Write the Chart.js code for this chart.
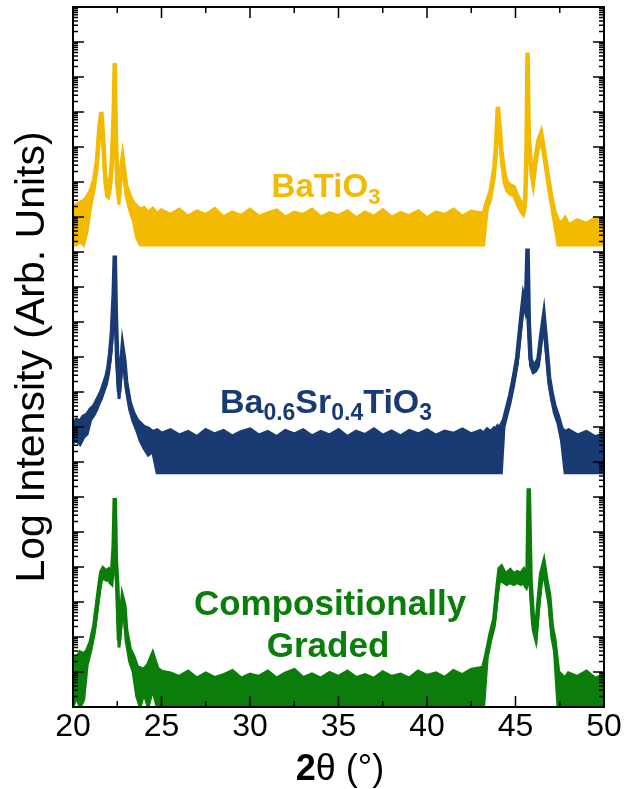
<!DOCTYPE html>
<html>
<head>
<meta charset="utf-8">
<script src="https://cdn.jsdelivr.net/npm/chart.js@4.4.0/dist/chart.umd.min.js"></script>
<style>
  body { margin: 0; background: #fff; }
  #xrd { display: block; }
</style>
</head>
<body>
<canvas id="xrd" width="632" height="789"></canvas>
<script>
// 2theta grid (deg) shared by all three scans
const angles = [
  20.0, 20.2, 20.4, 20.6, 20.8, 21.0, 21.2, 21.35, 21.5, 21.6, 21.7, 21.8, 21.9, 22.0, 22.1, 22.2, 22.3, 22.36, 22.42, 22.5,
  22.6, 22.7, 22.8, 22.9, 23.0, 23.2, 23.4, 23.6, 23.8, 24.0, 24.25, 24.5, 24.75, 25.0,
  25.5, 26.0, 26.5, 27.0, 27.5, 28.0, 28.5, 29.0, 29.5, 30.0, 30.5, 31.0, 31.5, 32.0, 32.5, 33.0, 33.5, 34.0,
  34.5, 35.0, 35.5, 36.0, 36.5, 37.0, 37.5, 38.0, 38.5, 39.0, 39.5, 40.0, 40.5, 41.0, 41.5, 42.0, 42.5, 43.0,
  43.2, 43.4, 43.6, 43.8, 43.9, 44.0, 44.1, 44.2, 44.35, 44.5, 44.7, 44.9, 45.1, 45.3, 45.45, 45.55, 45.62, 45.68,
  45.75, 45.85, 46.0, 46.15, 46.3, 46.45, 46.6, 46.75, 46.9, 47.05, 47.2, 47.4, 47.6, 47.8, 48.0, 48.5, 49.0, 49.5, 50.0
];

// log10 intensity (offset traces), upper edge and lower edge of the noisy band
const btoTop = [
  14.2, 14.35, 14.4, 14.45, 14.57, 14.75, 15.06, 15.6, 16.6, 17.0, 16.3, 15.3, 14.85, 14.8, 15.0, 15.6, 17.0, 18.4, 16.4, 15.0,
  14.6, 15.3, 15.68, 15.3, 14.9, 14.6, 14.4, 14.3, 14.2, 14.25, 14.1, 14.22, 14.08, 14.18,
  14.05, 14.2, 14.0, 14.15, 14.05, 14.22, 13.98, 14.12, 14.02, 14.2, 14.0, 14.1, 14.18, 13.97, 14.12, 14.05, 14.2, 13.98,
  14.1, 14.02, 14.15, 13.95, 14.12, 14.0, 14.18, 13.97, 14.1, 14.02, 14.15, 13.95, 14.12, 14.05, 14.2, 14.0, 14.15, 14.1,
  14.1, 14.45, 14.75, 15.4, 16.0, 17.15, 16.6, 15.9, 15.3, 15.0, 14.9, 14.85, 14.6, 14.4, 14.3, 14.5, 15.8, 18.7,
  16.3, 15.6, 15.1, 15.75, 16.2, 16.4, 15.95, 15.45, 14.95, 14.5, 14.15, 13.9, 13.8, 13.95, 13.75, 13.9, 13.8, 13.95, 13.85
];
const btoBottom = [
  13.2, 13.2, 13.3, 13.2, 13.6, 14.3, 14.8, 15.3, 16.3, 16.75, 16.0, 15.0, 14.6, 14.55, 14.75, 15.3, 16.7, 18.1, 16.1, 14.75,
  14.35, 15.05, 15.4, 15.0, 14.6, 14.2, 13.9, 13.4, 13.2, 13.2, 13.2, 13.2, 13.2, 13.2,
  13.2, 13.2, 13.2, 13.2, 13.2, 13.2, 13.2, 13.2, 13.2, 13.2, 13.2, 13.2, 13.2, 13.2, 13.2, 13.2, 13.2, 13.2,
  13.2, 13.2, 13.2, 13.2, 13.2, 13.2, 13.2, 13.2, 13.2, 13.2, 13.2, 13.2, 13.2, 13.2, 13.2, 13.2, 13.2, 13.2,
  13.2, 14.2, 14.5, 15.1, 15.7, 16.85, 16.3, 15.6, 15.0, 14.75, 14.65, 14.6, 14.35, 14.15, 14.05, 14.25, 15.5, 18.4,
  16.0, 15.3, 14.85, 15.5, 15.95, 16.15, 15.7, 15.2, 14.7, 14.25, 13.8, 13.2, 13.2, 13.2, 13.2, 13.2, 13.2, 13.2, 13.2
];

const bstTop = [
  8.1, 8.2, 8.15, 8.3, 8.35, 8.5, 8.6, 8.75, 8.9, 9.0, 9.15, 9.3, 9.45, 9.7, 10.1, 10.7, 11.8, 12.9, 11.2, 9.9,
  9.0, 9.6, 10.25, 9.9, 9.3, 8.7, 8.4, 8.2, 8.1, 8.0, 7.95, 7.85, 7.9, 7.8,
  7.9, 7.75, 7.85, 7.7, 7.9, 7.78, 7.88, 7.72, 7.85, 7.92, 7.75, 7.85, 7.7, 7.88, 7.78, 7.9, 7.72, 7.85,
  7.75, 7.9, 7.7, 7.86, 7.76, 7.92, 7.74, 7.86, 7.72, 7.88, 7.78, 7.9, 7.74, 7.86, 7.8, 7.92, 7.78, 7.88,
  7.8, 7.92, 7.85, 7.95, 7.9, 8.0, 7.95, 8.05, 8.2, 8.5, 8.9, 9.4, 10.0, 11.0, 11.7, 11.5, 12.0, 13.1,
  11.0, 9.95, 9.75, 9.8, 9.95, 10.6, 11.15, 10.3, 9.4, 8.95, 8.6, 8.3, 7.95, 7.85, 7.9, 7.75, 7.85, 7.7, 7.8
];
const bstBottom = [
  7.55, 7.6, 7.5, 7.7, 7.8, 8.2, 8.35, 8.5, 8.7, 8.8, 8.95, 9.1, 9.25, 9.5, 9.9, 10.5, 11.6, 12.6, 11.0, 9.7,
  8.8, 9.4, 10.0, 9.7, 9.1, 8.5, 8.15, 7.9, 7.6, 7.4, 7.2, 7.3, 6.69, 6.69,
  6.69, 6.69, 6.69, 6.69, 6.69, 6.69, 6.69, 6.69, 6.69, 6.69, 6.69, 6.69, 6.69, 6.69, 6.69, 6.69, 6.69, 6.69,
  6.69, 6.69, 6.69, 6.69, 6.69, 6.69, 6.69, 6.69, 6.69, 6.69, 6.69, 6.69, 6.69, 6.69, 6.69, 6.69, 6.69, 6.69,
  6.69, 6.69, 6.69, 6.69, 6.69, 6.69, 6.69, 6.69, 8.0, 8.3, 8.7, 9.2, 9.8, 10.8, 11.5, 11.3, 11.8, 12.8,
  10.8, 9.75, 9.55, 9.6, 9.75, 10.4, 10.95, 10.1, 9.2, 8.75, 8.4, 8.1, 7.6, 6.69, 6.69, 6.69, 6.69, 6.69, 6.69
];

const gradTop = [
  1.45, 1.35, 1.55, 1.5, 1.6, 1.85, 2.3, 2.9, 3.5, 3.85, 3.95, 3.9, 3.88, 3.92, 3.8, 3.75, 4.6, 5.97, 4.2, 3.5,
  1.9, 2.5, 3.1, 2.9, 2.2, 1.65, 1.45, 1.15, 1.1, 1.05, 1.2, 1.5, 1.1, 1.0,
  0.95, 0.85, 1.0, 0.8, 0.95, 0.82, 0.9, 1.02, 0.8, 0.92, 0.85, 1.0, 0.8, 0.95, 1.05, 0.82, 0.92, 0.8,
  0.96, 0.85, 1.0, 0.82, 0.9, 0.8, 0.98, 0.85, 0.92, 0.8, 1.0, 0.88, 0.95, 0.82, 1.02, 0.9, 1.05, 1.1,
  1.15, 1.6, 2.1, 2.5, 3.0, 3.5, 3.95, 4.0, 3.85, 3.8, 3.9, 3.78, 3.85, 3.8, 3.9, 3.75, 3.7, 3.8,
  6.25, 3.6, 2.4, 2.1, 3.0, 3.8, 4.1, 3.6, 3.2, 2.3, 1.9, 1.0, 0.9, 0.8, 0.95, 0.85, 1.0, 0.8, 0.9
];
const gradBottom = [
  0, 0.3, 0, 0.2, 1.2, 1.6, 2.1, 2.7, 3.3, 3.6, 3.7, 3.65, 3.62, 3.65, 3.55, 3.5, 4.4, 5.7, 4.0, 3.2,
  1.7, 2.3, 2.9, 2.6, 1.9, 1.3, 1.0, 0.3, 0, 0.4, 0, 0.5, 0, 0,
  0, 0, 0, 0, 0, 0, 0, 0, 0, 0, 0, 0, 0, 0, 0, 0, 0, 0,
  0, 0, 0, 0, 0, 0, 0, 0, 0, 0, 0, 0, 0, 0, 0, 0, 0, 0,
  0, 1.4, 1.9, 2.3, 2.8, 3.3, 3.6, 3.6, 3.55, 3.5, 3.55, 3.5, 3.55, 3.5, 3.55, 3.45, 3.4, 3.5,
  6.0, 3.3, 2.2, 1.9, 2.8, 3.5, 3.85, 3.35, 2.9, 2.0, 1.6, 0, 0, 0, 0, 0, 0, 0, 0
];

const xTicks = [20, 25, 30, 35, 40, 45, 50];
const FONT = '"Liberation Sans", Arial, Helvetica, sans-serif';

const colors = {
  bto: "#f2ba00",
  bst: "#193a72",
  grad: "#0a7d0a",
};

// один скан = нижняя граница + верхняя граница, залитые между собой
function band(top, bottom, color) {
  const pts = (arr) => angles.map((a, i) => ({ x: a, y: Math.pow(10, arr[i]) }));
  return [
    { data: pts(bottom), borderColor: color, borderWidth: 3, pointRadius: 0, fill: false },
    { data: pts(top), borderColor: color, backgroundColor: color, borderWidth: 4.5, pointRadius: 0, fill: "-1" },
  ];
}

// подписи с нижними индексами
function drawRich(ctx, parts, cx, baseline, size) {
  const fontOf = (p) => `${p.bold === false ? "" : "bold "}${p.sub ? Math.round(size * 0.68) : size}px ${FONT}`;
  let w = 0;
  parts.forEach((p) => { ctx.font = fontOf(p); w += ctx.measureText(p.t).width; });
  let x = cx - w / 2;
  parts.forEach((p) => {
    ctx.font = fontOf(p);
    ctx.fillText(p.t, x, baseline + (p.sub ? size * 0.22 : 0));
    x += ctx.measureText(p.t).width;
  });
}

const framePlugin = {
  id: "framePlugin",
  afterDatasetsDraw(chart) {
    const { ctx, chartArea: a, scales: { x, y } } = chart;
    ctx.save();
    ctx.strokeStyle = "#000";
    ctx.lineWidth = 1.5;
    ctx.beginPath();
    for (let v = 20; v <= 50; v += 2.5) {
      const px = x.getPixelForValue(v);
      const len = v % 5 === 0 ? 11 : 6;
      ctx.moveTo(px, a.bottom); ctx.lineTo(px, a.bottom - len);
      ctx.moveTo(px, a.top); ctx.lineTo(px, a.top + len);
    }
    for (let e = 0; e < 20; e++) {
      for (let m = 1; m <= 9; m++) {
        const py = y.getPixelForValue(m * Math.pow(10, e));
        const len = m === 1 ? 11 : 5;
        ctx.moveTo(a.left, py); ctx.lineTo(a.left + len, py);
        ctx.moveTo(a.right, py); ctx.lineTo(a.right - len, py);
      }
    }
    ctx.stroke();
    ctx.lineWidth = 2;
    ctx.strokeRect(a.left, a.top, a.right - a.left, a.bottom - a.top);

    ctx.textAlign = "left";
    ctx.textBaseline = "alphabetic";
    ctx.fillStyle = colors.bto;
    drawRich(ctx, [{ t: "BaTiO" }, { t: "3", sub: true }], 326, 197, 33);
    ctx.fillStyle = colors.bst;
    drawRich(ctx, [{ t: "Ba" }, { t: "0.6", sub: true }, { t: "Sr" }, { t: "0.4", sub: true }, { t: "TiO" }, { t: "3", sub: true }], 326, 413, 34);
    ctx.fillStyle = colors.grad;
    drawRich(ctx, [{ t: "Compositionally" }], 330, 615, 35);
    drawRich(ctx, [{ t: "Graded" }], 328, 657, 35);

    ctx.fillStyle = "#000";
    drawRich(ctx, [{ t: "2" }, { t: "θ (°)", bold: false }], 340, 780, 36);
    ctx.restore();
  },
};

new Chart(document.getElementById("xrd").getContext("2d"), {
  type: "line",
  data: {
    datasets: [
      ...band(btoTop, btoBottom, colors.bto),
      ...band(bstTop, bstBottom, colors.bst),
      ...band(gradTop, gradBottom, colors.grad),
    ],
  },
  options: {
    responsive: false,
    animation: false,
    layout: { padding: { top: 7, right: 28, left: 0, bottom: 0 } },
    elements: { line: { tension: 0 } },
    plugins: { legend: { display: false }, tooltip: { enabled: false } },
    scales: {
      x: {
        type: "linear",
        min: 20,
        max: 50,
        afterBuildTicks: (s) => { s.ticks = xTicks.map((v) => ({ value: v })); },
        afterFit: (s) => { s.height = 82; },
        grid: { display: false, drawTicks: false },
        border: { display: false },
        ticks: { color: "#000", padding: 1, maxRotation: 0, font: { family: FONT, size: 32 } },
      },
      y: {
        type: "logarithmic",
        min: 1,
        max: 1e20,
        afterFit: (s) => { s.width = 73; },
        grid: { display: false, drawTicks: false },
        border: { display: false },
        ticks: { display: false },
        title: {
          display: true,
          text: "Log Intensity (Arb. Units)",
          color: "#000",
          padding: { top: 8, bottom: 0 },
          font: { family: FONT, size: 41 },
        },
      },
    },
  },
  plugins: [framePlugin],
});
</script>
</body>
</html>
